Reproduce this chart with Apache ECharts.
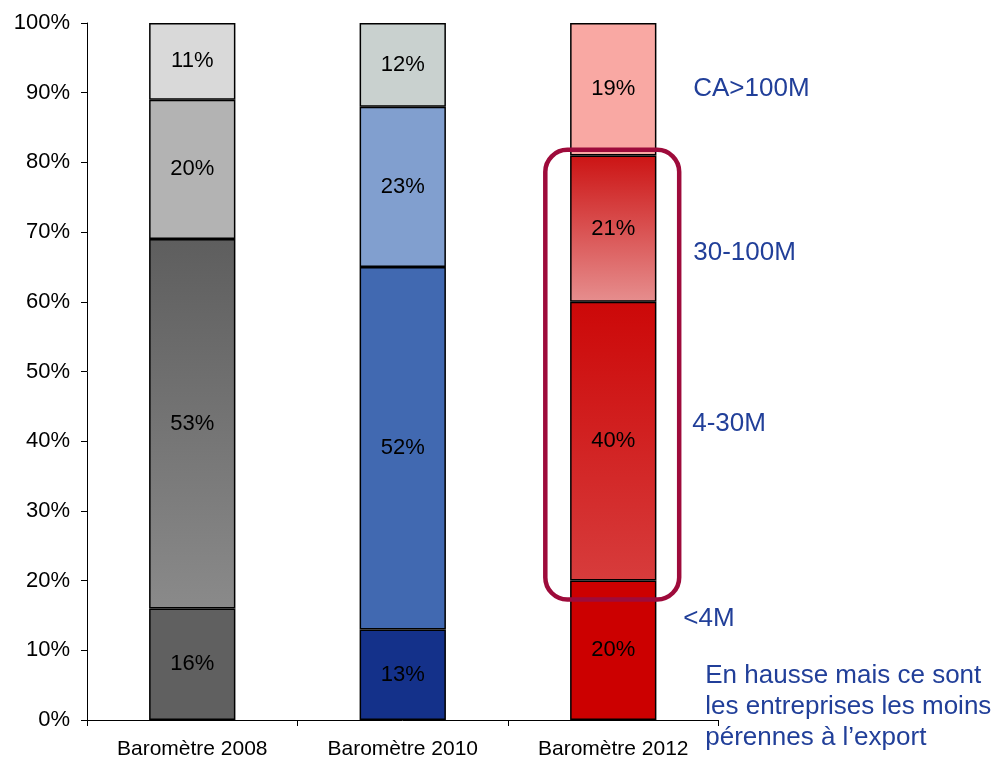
<!DOCTYPE html>
<html><head><meta charset="utf-8">
<script src="https://cdn.jsdelivr.net/npm/echarts@6/dist/echarts.min.js"></script>
<style>html,body{margin:0;padding:0;background:#fff}#c{width:1001px;height:763px}</style>
</head><body><div id="c"></div>
<script>
const categories = ['Baromètre 2008', 'Baromètre 2010', 'Baromètre 2012'];
const seriesNames = ['<4M', '4-30M', '30-100M', 'CA>100M'];
const shareSmall = [16, 13, 20];
const shareMid = [53, 52, 40];
const shareLarge = [20, 23, 21];
const shareTop = [11, 12, 19];
const yTicks = [0, 10, 20, 30, 40, 50, 60, 70, 80, 90, 100];
const sideLabels = ['CA>100M', '30-100M', '4-30M', '<4M'];
const sideLabelPos = [90.5, 67, 42.5, 14.5];
const note = 'En hausse mais ce sont\nles entreprises les moins\npérennes à l’export';
const highlightRange = [17.3, 81.8];

const FONT = 'Liberation Sans, Arial, sans-serif';
const grad = (a, b) => ({type: 'linear', x: 0, y: 0, x2: 0, y2: 1, colorStops: [{offset: 0, color: a}, {offset: 1, color: b}]});
const colors = [
  ['#606060', '#14318a', '#cc0000'],
  [grad('#5e5e5e', '#8a8a8a'), '#4169b1', grad('#cc0808', '#d73c3c')],
  ['#b3b3b3', '#819fcf', grad('#cc1414', '#e68e8e')],
  ['#d9d9d9', '#c9d1cf', '#f9a8a3']
];
const dataSets = [shareSmall, shareMid, shareLarge, shareTop];

const chart = echarts.init(document.getElementById('c'));
chart.setOption({
  animation: false,
  grid: {left: 87, right: 282.5, top: 23, bottom: 43},
  xAxis: {
    type: 'category', data: categories,
    axisLine: {lineStyle: {color: '#000', width: 1}},
    axisTick: {show: true, length: 6, lineStyle: {color: '#000'}},
    axisLabel: {color: '#000', fontSize: 21, fontFamily: FONT, margin: 19}
  },
  yAxis: {
    type: 'value', min: yTicks[0], max: yTicks[yTicks.length - 1], interval: yTicks[1] - yTicks[0],
    axisLine: {show: true, lineStyle: {color: '#000', width: 1}},
    axisTick: {show: true, length: 6, inside: false, lineStyle: {color: '#000'}},
    splitLine: {show: false},
    axisLabel: {color: '#000', fontSize: 22, fontFamily: FONT, margin: 17, formatter: v => v + '%'}
  },
  series: dataSets.map((arr, si) => ({
    name: seriesNames[si], type: 'bar', stack: 'all', barWidth: '41%',
    data: arr.map((v, i) => ({value: v, itemStyle: {color: colors[si][i]}})),
    itemStyle: {borderColor: '#000', borderWidth: 1.5},
    label: {show: true, position: 'inside', color: '#000', fontSize: 22, fontFamily: FONT, formatter: '{c}%'}
  }))
});

function drawOverlay() {
  const c0 = chart.convertToPixel({xAxisIndex: 0, yAxisIndex: 0}, [categories[1], 0]);
  const c1 = chart.convertToPixel({xAxisIndex: 0, yAxisIndex: 0}, [categories[2], highlightRange[1]]);
  const c2 = chart.convertToPixel({xAxisIndex: 0, yAxisIndex: 0}, [categories[2], highlightRange[0]]);
  const band = c1[0] - c0[0];
  const halfW = band * 0.318;
  const els = [{
    type: 'rect', z: 100,
    shape: {x: c1[0] - halfW - 1, y: c1[1], width: halfW * 2, height: c2[1] - c1[1], r: 22},
    style: {fill: null, stroke: '#9e0b3b', lineWidth: 4.5}
  }];
  const tx = c1[0] + band * 0.38;
  sideLabels.forEach((t, i) => {
    const p = chart.convertToPixel({xAxisIndex: 0, yAxisIndex: 0}, [categories[2], sideLabelPos[i]]);
    els.push({type: 'text', z: 100, x: tx + (i === 3 ? -10 : (i === 2 ? -1 : 0)), y: p[1],
      style: {text: t, fill: '#213f99', font: '26px ' + FONT, textVerticalAlign: 'middle', textAlign: 'left'}});
  });
  const b = chart.convertToPixel({xAxisIndex: 0, yAxisIndex: 0}, [categories[2], 0]);
  els.push({type: 'text', z: 100, x: c1[0] + band * 0.437, y: b[1] - 60,
    style: {text: note, fill: '#213f99', font: '26px ' + FONT, lineHeight: 31, textVerticalAlign: 'top', textAlign: 'left'}});
  chart.setOption({graphic: {elements: els}});
}
drawOverlay();
</script>
</body></html>
